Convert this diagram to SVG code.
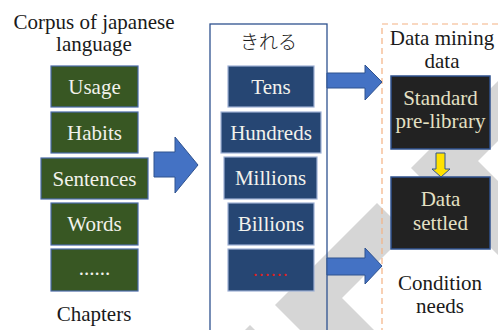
<svg xmlns="http://www.w3.org/2000/svg" width="498" height="330" viewBox="0 0 498 330">
<style>
.t{fill:#1a1a1a;text-anchor:middle}
.w{fill:#f2f2ec;text-anchor:middle}
.c{fill:#e4e0c4;text-anchor:middle}
.g{fill:#385723;stroke:#4a6aa8;stroke-width:1.2}
.n{fill:#264673;stroke:#9db0d4;stroke-width:1.2}
.k{fill:#222222;stroke:#2f528f;stroke-width:1.5}
.arr{fill:#4472c4;stroke:#2f528f;stroke-width:1}
.wm{fill:#d6d6d6}
</style>
<rect width="498" height="330" fill="#ffffff"/>
<g id="watermark">
<polygon class="wm" points="377,203 407,233 342,298 374,330 300,330 275,305"/>
<polygon class="wm" points="513,66 543,96 478,161 543,226 506,263 411,168"/>
<polygon class="wm" points="250,325 255,330 245,330"/>
</g>
<g id="frames">
<rect id="middle-frame" x="210" y="24" width="117" height="320" fill="none" stroke="#2f528f" stroke-width="1.3"/>
<rect id="right-frame" x="382" y="24" width="130" height="320" fill="none" stroke="#f4b183" stroke-width="1.2" stroke-dasharray="6,4"/>
</g>
<g id="connectors">
<polygon class="arr" points="154,152 175,152 175,137 198,165 175,193 175,177 154,177"/>
<polygon class="arr" points="327,73 365,73 365,65 382,82 365,100 365,88 327,88"/>
<polygon class="arr" points="327,258 365,258 365,248 382,266 365,284 365,275 327,275"/>
<polygon points="436,153 445,153 445,169 450,169 441,177 432,169 436,169" fill="#ffe100" stroke="#2f528f" stroke-width="1"/>
</g>
<g font-family="Liberation Serif, DejaVu Serif, serif" font-size="21">
<g id="left-title">
<text class="t" x="94" y="29">Corpus of japanese</text>
<text class="t" x="94" y="51">language</text>
</g>
<g id="usage"><rect class="g" x="51" y="66" width="87" height="41"/><text class="w" x="94.5" y="93.5">Usage</text></g>
<g id="habits"><rect class="g" x="51" y="112" width="87" height="41"/><text class="w" x="94.5" y="139.5">Habits</text></g>
<g id="sentences"><rect class="g" x="41" y="158" width="107" height="41"/><text class="w" x="94.5" y="185.5">Sentences</text></g>
<g id="words"><rect class="g" x="51" y="203" width="87" height="42"/><text class="w" x="94.5" y="231">Words</text></g>
<g id="more-left"><rect class="g" x="51" y="249" width="87" height="42"/><text class="w" x="94.5" y="275">......</text></g>
<g id="chapters"><text class="t" x="94" y="321">Chapters</text></g>
<g id="tens"><rect class="n" x="228" y="66" width="86" height="41"/><text class="w" x="271" y="93.5">Tens</text></g>
<g id="hundreds"><rect class="n" x="221" y="112" width="100" height="41"/><text class="w" x="271" y="139.5">Hundreds</text></g>
<g id="millions"><rect class="n" x="224" y="157" width="93" height="42"/><text class="w" x="270.5" y="185">Millions</text></g>
<g id="billions"><rect class="n" x="228" y="203" width="86" height="42"/><text class="w" x="271" y="231">Billions</text></g>
<g id="more-mid"><rect class="n" x="228" y="249" width="86" height="42"/><text x="271" y="276" font-size="18" fill="#e02020" text-anchor="middle" letter-spacing="1.5">......</text></g>
<g id="right-title">
<text class="t" x="442" y="45">Data mining</text>
<text class="t" x="442" y="68">data</text>
</g>
<g id="standard"><rect class="k" x="391" y="76" width="99" height="73"/><text class="c" x="440.5" y="105">Standard</text><text class="c" x="440.5" y="128">pre-library</text></g>
<g id="settled"><rect class="k" x="391" y="177" width="99" height="72"/><text class="c" x="440.5" y="206">Data</text><text class="c" x="440.5" y="230">settled</text></g>
<g id="condition">
<text class="t" x="440" y="290">Condition</text>
<text class="t" x="440" y="313">needs</text>
</g>
</g>
<g id="middle-title"><text x="268.5" y="49" font-family="Noto Sans CJK JP, sans-serif" font-size="19" font-weight="300" fill="#1a1a1a" text-anchor="middle">きれる</text></g>
</svg>
